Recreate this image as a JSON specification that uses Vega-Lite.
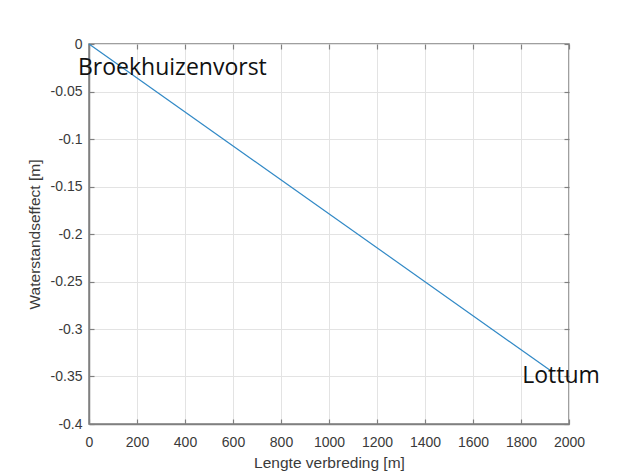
{
  "$schema": "https://vega.github.io/schema/vega-lite/v6.json",
  "width": 480,
  "height": 380,
  "autosize": {"type": "none"},
  "padding": {"left": 89, "top": 44, "right": 51, "bottom": 48},
  "background": "white",
  "config": {
    "view": {"stroke": "#808080", "strokeWidth": 1.5},
    "axis": {
      "labelFont": "Liberation Sans",
      "titleFont": "Liberation Sans",
      "labelFontSize": 14,
      "titleFontSize": 15.5,
      "titleFontWeight": "normal",
      "labelColor": "#3a3a3a",
      "titleColor": "#3a3a3a",
      "domainColor": "#808080",
      "domainWidth": 1.5,
      "tickColor": "#808080",
      "tickWidth": 1.2,
      "gridColor": "#e3e3e3",
      "gridWidth": 1,
      "gridOpacity": 1,
      "labelFlush": false
    }
  },
  "data": {"values": [
    {"lengte": 0, "effect": 0, "plaats": "Broekhuizenvorst"},
    {"lengte": 1930, "effect": -0.345, "plaats": "Lottum"}
  ]},
  "layer": [
    {
      "mark": {"type": "line", "color": "#3189c6", "strokeWidth": 1.2},
      "encoding": {
        "x": {
          "field": "lengte", "type": "quantitative",
          "scale": {"domain": [0, 2000], "nice": false, "zero": false},
          "axis": {
            "title": "Lengte verbreding [m]",
            "values": [0, 200, 400, 600, 800, 1000, 1200, 1400, 1600, 1800, 2000],
            "format": "d",
            "tickSize": -5,
            "labelPadding": 16,
            "labelFlush": false,
            "titlePadding": 6
          }
        },
        "y": {
          "field": "effect", "type": "quantitative",
          "scale": {"domain": [-0.4, 0], "nice": false, "zero": false},
          "axis": {
            "title": "Waterstandseffect [m]",
            "values": [0, -0.05, -0.1, -0.15, -0.2, -0.25, -0.3, -0.35, -0.4],
            "labelExpr": "replace(format(datum.value, '~g'), '−', '-')",
            "tickSize": -5,
            "labelPadding": 12,
            "labelFlush": false,
            "titlePadding": 8
          }
        }
      }
    },
    {
      "mark": {"type": "line", "opacity": 0},
      "encoding": {
        "x": {
          "field": "lengte", "type": "quantitative",
          "axis": {"orient": "top", "labels": false, "title": null, "grid": false, "domain": false,
                   "values": [0, 200, 400, 600, 800, 1000, 1200, 1400, 1600, 1800, 2000], "tickSize": -5}
        },
        "y": {
          "field": "effect", "type": "quantitative",
          "axis": {"orient": "right", "labels": false, "title": null, "grid": false, "domain": false,
                   "values": [0, -0.05, -0.1, -0.15, -0.2, -0.25, -0.3, -0.35, -0.4], "tickSize": -5}
        }
      }
    },
    {
      "transform": [{"filter": "datum.plaats == 'Broekhuizenvorst'"}],
      "mark": {"type": "text", "font": "Open Sans", "fontSize": 23, "color": "#111111",
               "align": "left", "baseline": "alphabetic", "dx": -11, "dy": 31},
      "encoding": {
        "x": {"field": "lengte", "type": "quantitative", "axis": null},
        "y": {"field": "effect", "type": "quantitative", "axis": null},
        "text": {"field": "plaats"}
      }
    },
    {
      "transform": [{"filter": "datum.plaats == 'Lottum'"}],
      "mark": {"type": "text", "font": "Open Sans", "fontSize": 23, "color": "#111111",
               "align": "left", "baseline": "alphabetic", "dx": -30, "dy": 11},
      "encoding": {
        "x": {"field": "lengte", "type": "quantitative", "axis": null},
        "y": {"field": "effect", "type": "quantitative", "axis": null},
        "text": {"field": "plaats"}
      }
    }
  ],
  "resolve": {"axis": {"x": "independent", "y": "independent"}}
}
